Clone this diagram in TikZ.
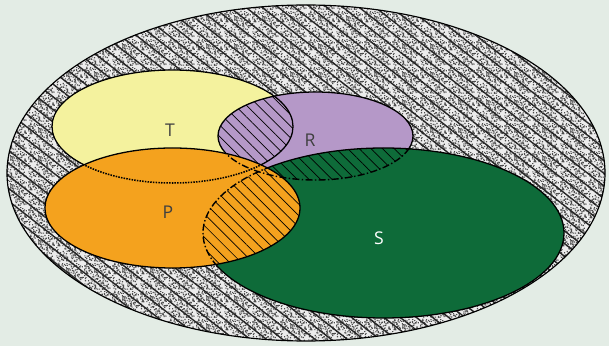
\documentclass[tikz,border=0pt]{standalone}
\usepackage{fontspec}
\setsansfont{Open Sans}
\usepackage{tikz}
\usetikzlibrary{patterns.meta}
\usepackage{xcolor}

\definecolor{bgcol}{HTML}{E3ECE5}
\definecolor{Tcol}{HTML}{F4F29E}
\definecolor{Rcol}{HTML}{B598C8}
\definecolor{Pcol}{HTML}{F4A21E}
\definecolor{Scol}{HTML}{0E6B39}

\newcommand{\ellU}{(306,173) ellipse [x radius=299,y radius=168]}
\newcommand{\ellT}{(172.5,126.5) ellipse [x radius=120.5,y radius=56.5]}
\newcommand{\ellR}{(315.5,136) ellipse [x radius=97.5,y radius=44]}
\newcommand{\ellS}{(383.5,233) ellipse [x radius=180.5,y radius=85]}
\newcommand{\ellP}{(172.5,208) ellipse [x radius=127.5,y radius=60]}

% grain du fond de l'univers
\tikzdeclarepattern{
  name=speckle,
  type=colored,
  bottom left={(0pt,0pt)},
  top right={(24pt,24pt)},
  tile size={(24pt,24pt)},
  code={
    \pgfmathsetseed{5}
    \foreach \k in {1,...,190}
      \fill[black!70] (rnd*23pt,rnd*23pt) rectangle ++(1pt,1pt);
  }
}

\begin{document}
\begin{tikzpicture}[x=0.03cm,y=-0.03cm,
    rim/.style={draw=black,line width=1pt},
    setline/.style={draw=black,line width=1.1pt},
    hatch/.style={pattern={Lines[angle=-45,distance=7pt,line width=0.6pt]},pattern color=black},
    dashdot/.style={draw=black,line width=1.2pt,dash pattern=on 6pt off 2pt on 1.2pt off 2pt},
    dotline/.style={draw=black,line width=1.3pt,dash pattern=on 1.3pt off 1pt},
    lab/.style={font=\sffamily\fontsize{15}{18}\selectfont,text=black!75}]

% Fond
\fill[bgcol] (0,0) rectangle (609,346);
\useasboundingbox (0,0) rectangle (609,346);

% Univers
\fill[gray!15] \ellU;
\fill[pattern=speckle] \ellU;
\fill[pattern={Lines[angle=-38,distance=8.5pt,line width=1.2pt]},pattern color=black!85] \ellU;
\draw[rim] \ellU;

% T
\fill[Tcol] \ellT;
\draw[setline] \ellT;

% R
\fill[Rcol] \ellR;
\begin{scope}
  \clip \ellR;
  \fill[hatch] \ellT;
  \draw[setline] \ellT;
\end{scope}
\draw[setline] \ellR;

% S
\fill[Scol] \ellS;
\begin{scope}
  \clip \ellS;
  \fill[hatch] \ellR;
  \draw[dashdot] \ellR;
\end{scope}
\draw[setline] \ellS;

% P
\fill[Pcol] \ellP;
\begin{scope}
  \clip \ellP;
  \fill[hatch] \ellS;
  \draw[dotline] \ellT;
  \draw[dashdot] \ellS;
  \draw[dashdot] \ellR;
\end{scope}
\draw[setline] \ellP;

% Noms
\node[lab] (labT) at (170,130) {T};
\node[lab] (labR) at (310,140) {R};
\node[lab] (labP) at (168,212) {P};
\node[lab,text=white] (labS) at (379,238) {S};

\end{tikzpicture}
\end{document}
